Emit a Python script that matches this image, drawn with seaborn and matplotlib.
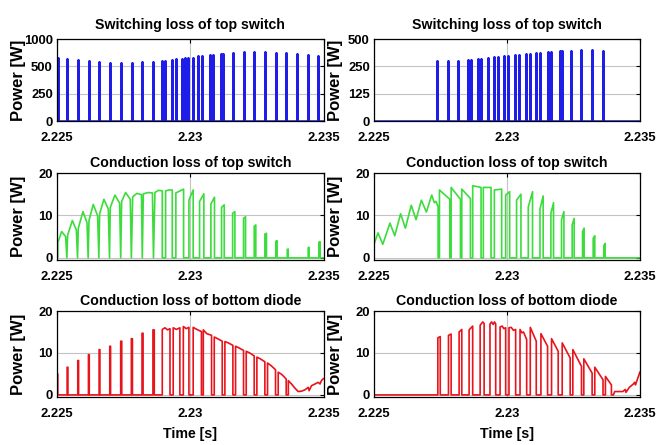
import numpy as np
import pandas as pd
import matplotlib
matplotlib.use("Agg")
import matplotlib.pyplot as plt
import seaborn as sns
from matplotlib import font_manager as fm

# ---------------- data (time in ms after 2.225 s, power in W) ----------------
T0 = 2.225
x_ticks = [2.225, 2.23, 2.235]
x_ticklabels = ["2.225", "2.23", "2.235"]

titles = ["Switching loss of top switch", "Switching loss of top switch",
          "Conduction loss of top switch", "Conduction loss of top switch",
          "Conduction loss of bottom diode", "Conduction loss of bottom diode"]

# switching-loss pulses
sw_left_ms = [0.025, 0.375, 0.775, 1.19, 1.59, 2.0, 2.4, 2.81, 3.2, 3.6, 3.95, 4.05,
              4.325, 4.46, 4.7, 4.81, 4.9, 5.09, 5.3, 5.45, 5.725, 5.85, 6.14, 6.24,
              6.61, 7.0, 7.4, 7.8, 8.2, 8.6, 9.01, 9.41, 9.8]
sw_left_w = [580, 567, 555, 546, 537, 531, 531, 531, 537, 543, 552, 552, 561, 567, 570,
             573, 580, 580, 592, 595, 604, 607, 613, 616, 625, 628, 628, 628, 625, 619,
             610, 601, 592]
sw_right_ms = [2.375, 2.79, 3.16, 3.54, 3.63, 3.925, 4.04, 4.3, 4.5, 4.675, 4.875, 5.05,
               5.3, 5.44, 5.7, 5.86, 6.1, 6.24, 6.55, 6.64, 6.975, 7.05, 7.39, 7.8, 8.2, 8.6]
sw_right_w = [274, 274, 276, 280, 280, 285, 285, 288, 293, 293, 296, 296, 300, 300, 305,
              305, 309, 309, 314, 314, 319, 319, 322, 323, 323, 322]
sw_left_yticks = [0, 250, 500, 750]
sw_left_yticklabels = ["0", "250", "500", "1000"]
sw_right_yticks = [0, 125, 250, 375]
sw_right_yticklabels = ["0", "125", "250", "500"]
cond_yticks = [0, 10, 20]

# conduction loss of top switch, left case (ms, W)
cond_top_left = [
    (0.0, 0), (0.03, 0), (0.03, 3.6), (0.175, 6.2), (0.325, 5.0), (0.37, 0), (0.40, 5.4),
    (0.575, 8.8), (0.725, 6.6), (0.77, 0), (0.80, 7.0),
    (0.975, 10.9), (1.125, 8.3), (1.17, 0), (1.20, 8.8),
    (1.36, 12.6), (1.525, 9.9), (1.57, 0), (1.60, 10.4),
    (1.76, 13.8), (1.925, 11.5), (1.97, 0), (2.00, 11.9),
    (2.175, 14.8), (2.35, 12.9), (2.39, 0), (2.425, 13.3),
    (2.575, 15.4), (2.75, 13.8), (2.79, 0), (2.84, 14.4),
    (3.00, 15.2), (3.17, 14.9), (3.20, 0), (3.24, 15.1),
    (3.42, 15.4), (3.58, 15.3), (3.62, 0), (3.675, 15.4),
    (3.80, 15.9), (3.95, 15.8), (3.95, 0), (4.075, 0), (4.075, 15.8),
    (4.20, 16.0), (4.325, 16.0), (4.325, 0), (4.46, 0), (4.46, 15.3),
    (4.75, 16.2), (4.75, 0), (4.95, 0), (4.95, 13.6), (5.11, 16.0), (5.11, 0),
    (5.35, 0), (5.35, 13.3), (5.51, 15.1), (5.51, 0),
    (5.775, 0), (5.775, 12.7), (5.91, 14.3), (5.91, 0),
    (6.175, 0), (6.175, 11.9), (6.275, 12.5), (6.275, 0),
    (6.59, 0), (6.59, 10.5), (6.675, 10.9), (6.675, 0),
    (7.0, 0), (7.0, 9.3), (7.075, 9.7), (7.075, 0),
    (7.4, 0), (7.4, 7.5), (7.46, 7.75), (7.46, 0),
    (7.8, 0), (7.8, 5.6), (7.86, 5.8), (7.86, 0),
    (8.21, 0), (8.21, 3.9), (8.26, 4.06), (8.26, 0),
    (8.64, 0), (8.64, 2.0), (8.675, 2.1), (8.675, 0),
    (9.425, 0), (9.425, 2.4), (9.46, 2.5), (9.46, 0),
    (9.825, 0), (9.825, 3.7), (9.875, 3.8), (9.875, 0), (10.0, 0)]

# conduction loss of top switch, right case (ms, W)
cond_top_right = [
    (0.0, 3.2), (0.15, 5.9), (0.33, 3.2), (0.6, 8.2), (0.78, 5.2), (1.0, 10.4),
    (1.18, 7.0), (1.4, 12.4), (1.58, 9.0), (1.78, 13.6), (1.97, 10.8), (2.17, 14.8),
    (2.27, 13.0), (2.33, 13.3), (2.41, 12.0), (2.41, 0), (2.46, 0), (2.46, 16.0),
    (2.85, 13.8), (2.85, 0), (2.90, 0), (2.90, 16.6), (3.25, 13.8), (3.25, 0),
    (3.30, 0), (3.30, 16.2), (3.625, 14.0), (3.625, 0), (3.71, 0), (3.71, 17.0),
    (4.025, 16.6), (4.025, 0), (4.11, 0), (4.11, 16.6), (4.4, 16.6), (4.4, 0),
    (4.525, 0), (4.525, 16.0), (4.8, 16.2), (4.8, 0), (4.95, 0), (4.95, 14.8),
    (5.1, 15.6), (5.1, 0), (5.36, 0), (5.36, 13.6), (5.525, 15.0), (5.525, 0),
    (5.8, 0), (5.8, 12.0), (5.96, 15.6), (5.96, 0), (6.24, 0), (6.24, 11.5),
    (6.36, 14.6), (6.36, 0), (6.65, 0), (6.65, 10.5), (6.75, 13.0), (6.75, 0),
    (7.05, 0), (7.05, 9.0), (7.14, 10.9), (7.14, 0), (7.45, 0), (7.45, 7.8),
    (7.525, 9.3), (7.525, 0), (7.84, 0), (7.84, 6.2), (7.9, 7.0), (7.9, 0),
    (8.24, 0), (8.24, 4.6), (8.3, 5.2), (8.3, 0), (8.64, 0), (8.64, 2.9),
    (8.69, 3.4), (8.69, 0), (10.0, 0)]

# conduction loss of bottom diode, left case (ms, W)
cond_diode_left = [
    (0.0, 5.0), (0.03, 5.0), (0.03, 0),
    (0.38, 0), (0.38, 6.6), (0.41, 6.6), (0.41, 0),
    (0.78, 0), (0.78, 8.2), (0.81, 8.2), (0.81, 0),
    (1.18, 0), (1.18, 9.6), (1.21, 9.6), (1.21, 0),
    (1.58, 0), (1.58, 10.8), (1.61, 10.8), (1.61, 0),
    (1.98, 0), (1.98, 11.6), (2.01, 11.6), (2.01, 0),
    (2.39, 0), (2.39, 12.8), (2.43, 12.8), (2.43, 0),
    (2.79, 0), (2.79, 13.4), (2.83, 13.4), (2.83, 0),
    (3.19, 0), (3.19, 14.7), (3.23, 14.7), (3.23, 0),
    (3.60, 0), (3.60, 15.5), (3.65, 15.5), (3.65, 0),
    (3.95, 0), (3.95, 15.6), (4.05, 16.0), (4.15, 15.5), (4.24, 15.8), (4.24, 0),
    (4.36, 0), (4.36, 16.0), (4.48, 15.6), (4.61, 16.0), (4.61, 0),
    (4.74, 0), (4.74, 16.3), (4.85, 15.8), (4.95, 16.1), (4.95, 0),
    (5.11, 0), (5.11, 16.1), (5.25, 15.6), (5.42, 15.1), (5.42, 0),
    (5.49, 0), (5.49, 15.5), (5.62, 14.6), (5.80, 14.2), (5.80, 0),
    (5.90, 0), (5.90, 13.8), (6.03, 13.4), (6.20, 12.8), (6.20, 0),
    (6.30, 0), (6.30, 12.7), (6.43, 12.4), (6.60, 11.8), (6.60, 0),
    (6.70, 0), (6.70, 11.6), (6.83, 11.2), (7.00, 10.6), (7.00, 0),
    (7.10, 0), (7.10, 10.4), (7.23, 10.0), (7.40, 9.3), (7.40, 0),
    (7.50, 0), (7.50, 9.0), (7.63, 8.6), (7.80, 7.9), (7.80, 0),
    (7.90, 0), (7.90, 7.6), (8.03, 7.0), (8.20, 6.0), (8.20, 0),
    (8.30, 0), (8.30, 5.4), (8.43, 4.9), (8.60, 3.8), (8.60, 0),
    (8.68, 0), (8.68, 3.4), (8.80, 2.6), (8.93, 1.6), (9.05, 0.8), (9.18, 0.9),
    (9.30, 1.2), (9.43, 1.8), (9.46, 1.0), (9.55, 2.2), (9.68, 2.6), (9.80, 3.0),
    (9.87, 2.6), (9.92, 3.4), (10.0, 3.9)]

# conduction loss of bottom diode, right case (ms, W)
cond_diode_right = [
    (0.0, 0), (2.40, 0), (2.40, 13.6), (2.49, 13.9), (2.49, 0),
    (2.80, 0), (2.80, 14.2), (2.90, 14.5), (2.90, 0),
    (3.20, 0), (3.20, 15.0), (3.30, 15.6), (3.30, 0),
    (3.575, 0), (3.575, 15.5), (3.71, 16.4), (3.71, 0),
    (3.99, 0), (3.99, 16.6), (4.09, 17.4), (4.14, 17.0), (4.14, 0),
    (4.36, 0), (4.36, 16.9), (4.42, 17.4), (4.48, 16.8), (4.53, 17.4), (4.575, 16.9), (4.575, 0),
    (4.74, 0), (4.74, 16.2), (4.82, 16.4), (4.88, 15.8), (4.95, 16.0), (4.95, 0),
    (5.075, 0), (5.075, 16.0), (5.16, 16.1), (5.24, 15.4), (5.325, 15.6), (5.325, 0),
    (5.49, 0), (5.49, 15.6), (5.56, 14.8), (5.62, 15.0), (5.74, 13.2), (5.74, 0),
    (5.875, 0), (5.875, 16.1), (6.1, 12.8), (6.1, 0),
    (6.275, 0), (6.275, 14.6), (6.525, 11.6), (6.525, 0),
    (6.675, 0), (6.675, 13.4), (6.925, 10.4), (6.925, 0),
    (7.075, 0), (7.075, 12.4), (7.375, 8.8), (7.375, 0),
    (7.475, 0), (7.475, 10.8), (7.80, 6.8), (7.80, 0),
    (7.8875, 0), (7.8875, 8.6), (8.20, 5.2), (8.20, 0),
    (8.30, 0), (8.30, 6.6), (8.61, 3.6), (8.61, 0),
    (8.70, 0), (8.70, 4.4), (8.925, 2.4), (8.925, 0),
    (9.0, 0), (9.05, 0.8), (9.35, 0.8), (9.45, 1.3), (9.47, 0.6), (9.60, 1.8),
    (9.75, 2.6), (9.80, 3.0), (9.83, 2.4), (10.0, 5.5)]

# ---------------- style ----------------
sns.set_style("white")
names = {f.name for f in fm.fontManager.ttflist}
NARROW = "Liberation Sans Narrow" if "Liberation Sans Narrow" in names else "Liberation Sans"
narrow_scale = 1.0 if NARROW == "Liberation Sans Narrow" else 0.85
plt.rcParams["font.family"] = [NARROW, "DejaVu Sans"]
plt.rcParams["text.color"] = "black"
plt.rcParams["axes.labelcolor"] = "black"
plt.rcParams["xtick.color"] = "black"
plt.rcParams["ytick.color"] = "black"

BLUE = "#1e1ee8"
GREEN = "#3ddc3d"
RED = "#e8141c"

fig = plt.figure(figsize=(6.56, 4.45), dpi=100)
W, H = 656.0, 445.0
col_x = [(57, 323.5), (374, 640)]
row_y = [(39, 121), (173, 260), (311, 397)]
axes = [[None, None] for _ in range(3)]
for r, (yt, yb) in enumerate(row_y):
    for c, (xl, xr) in enumerate(col_x):
        axes[r][c] = fig.add_axes([xl / W, 1 - yb / H, (xr - xl) / W, (yb - yt) / H])


def spikes(ms, w):
    t, p = [T0], [0.0]
    for m, h in zip(ms, w):
        tt = T0 + m / 1000.0
        t += [tt, tt, tt]
        p += [0.0, h, 0.0]
    t.append(T0 + 0.01)
    p.append(0.0)
    return pd.DataFrame({"t": t, "p": p})


def wave(pairs):
    return pd.DataFrame({"t": [T0 + a / 1000.0 for a, _ in pairs],
                         "p": [b for _, b in pairs]})


panels = [
    (spikes(sw_left_ms, sw_left_w), BLUE, 1.8, (0, 750), sw_left_yticks, sw_left_yticklabels),
    (spikes(sw_right_ms, sw_right_w), BLUE, 1.8, (0, 375), sw_right_yticks, sw_right_yticklabels),
    (wave(cond_top_left), GREEN, 1.2, (-0.5, 20), cond_yticks, [str(v) for v in cond_yticks]),
    (wave(cond_top_right), GREEN, 1.2, (-0.5, 20), cond_yticks, [str(v) for v in cond_yticks]),
    (wave(cond_diode_left), RED, 1.2, (-0.5, 20), cond_yticks, [str(v) for v in cond_yticks]),
    (wave(cond_diode_right), RED, 1.2, (-0.5, 20), cond_yticks, [str(v) for v in cond_yticks]),
]

for i, (df, color, lw, ylim, yt, ytl) in enumerate(panels):
    r, c = divmod(i, 2)
    ax = axes[r][c]
    sns.lineplot(data=df, x="t", y="p", ax=ax, color=color, lw=lw,
                 sort=False, estimator=None, legend=False)
    ax.set_xlim(T0, T0 + 0.01)
    ax.set_ylim(*ylim)
    ax.set_xticks(x_ticks)
    ax.set_xticklabels(x_ticklabels)
    ax.set_yticks(yt)
    ax.set_yticklabels(ytl)
    ax.grid(True, color="#c4c4c4", lw=0.8)
    ax.set_axisbelow(True)
    for s in ax.spines.values():
        s.set_color("black")
        s.set_linewidth(0.9)
    ax.tick_params(direction="in", length=3, width=0.8, top=True, right=True,
                   colors="black", labelcolor="black", labelsize=11 * narrow_scale)
    ax.tick_params(axis="x", pad=8)
    ax.tick_params(axis="y", pad=3)
    for lab in ax.get_xticklabels() + ax.get_yticklabels():
        lab.set_fontweight("bold")
    ax.set_xlabel("")
    ax.set_ylabel("Power [W]", fontsize=12, fontweight="bold", color="black",
                  family=["Liberation Sans", "DejaVu Sans"])
    ax.yaxis.set_label_coords(-0.118, 0.5)
    ax.set_title(titles[i], fontsize=12 * narrow_scale, fontweight="bold", color="black",
                 pad=7 if r == 0 else 4)
    if r == 2:
        ax.set_xlabel("Time [s]", fontsize=12 * narrow_scale, fontweight="bold",
                      color="black", labelpad=5)

fig.savefig("out.png", dpi=100)
